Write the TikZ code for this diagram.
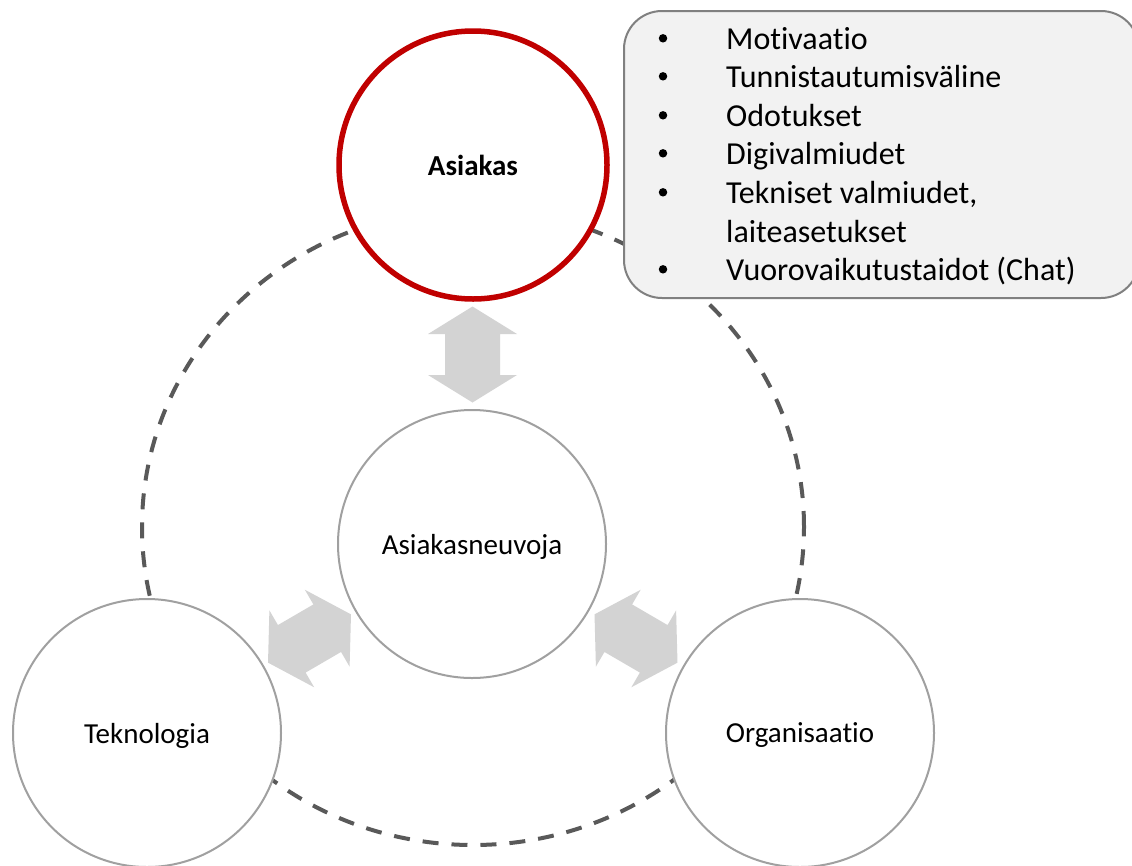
\documentclass[tikz,border=0pt]{standalone}
\usepackage{fontspec}
\setmainfont{Carlito}[Ligatures={NoCommon,NoRare,NoContextual}]
\usetikzlibrary{calc}
\definecolor{asred}{HTML}{C00000}
\definecolor{ringgrey}{HTML}{595959}
\definecolor{rimgrey}{HTML}{A0A0A0}
\definecolor{arrowgrey}{HTML}{D3D3D3}
\definecolor{boxfill}{HTML}{F2F2F2}
\definecolor{boxline}{HTML}{808080}

\begin{document}
\begin{tikzpicture}[x=1pt,y=-1pt,
  role/.style={circle, draw=rimgrey, line width=2pt, fill=white,
    minimum size=268pt, inner sep=0pt, text depth=0pt,
    font=\fontsize{29}{34}\selectfont},
  keyrole/.style={role, draw=asred, line width=5.5pt,
    font=\fontsize{29}{34}\selectfont\bfseries},
  ringline/.style={draw=ringgrey, line width=4pt, dash pattern=on 16pt off 13pt},
  infobox/.style={draw=boxline, line width=2pt, fill=boxfill,
    rounded corners=38pt, anchor=north west, minimum width=515pt,
    minimum height=287pt, inner sep=0pt},
  listline/.style={anchor=base west, inner sep=0pt, font=\fontsize{32}{38}\selectfont},
  bulletmark/.style={circle, fill=black, minimum size=8.5pt, inner sep=0pt, yshift=10.7pt},
  pics/dblarrow/.style={code={
    \fill[arrowgrey] (48pt,0pt) -- (20.5pt,44.5pt) -- (20.5pt,27.5pt)
      -- (-20.5pt,27.5pt) -- (-20.5pt,44.5pt) -- (-48pt,0pt)
      -- (-20.5pt,-44.5pt) -- (-20.5pt,-27.5pt) -- (20.5pt,-27.5pt)
      -- (20.5pt,-44.5pt) -- cycle;}}]

\useasboundingbox (0,0) rectangle (1132,865);

% dashed ring joining the three outer roles
\coordinate (ring) at (473,527);
\draw[ringline] (ring) ellipse [x radius=331pt, y radius=318pt];

% roles
\node[keyrole] (asiakas) at (473,165) {Asiakas};
\node[role] (neuvoja) at (472,544) {Asiakasneuvoja};
\node[role] (tekno) at (147,733) {Teknologia};
\node[role] (org) at (800,733) {Organisaatio};

% two-way block arrows between the roles and the advisor
\coordinate (m1) at ($(asiakas)!0.5!(neuvoja)$);
\coordinate (m2) at ($(tekno)!0.5!(neuvoja)$);
\coordinate (m3) at ($(org)!0.5!(neuvoja)$);
\pic[rotate=90] at (m1) {dblarrow};
\pic[rotate=30.2] at (m2) {dblarrow};
\pic[rotate=-30.2] at (m3) {dblarrow};

% customer attributes
\node[infobox] (box) at (623,10) {};
\node[bulletmark] (b1) at (663,49) {};
\node[bulletmark] (b2) at (663,87) {};
\node[bulletmark] (b3) at (663,126) {};
\node[bulletmark] (b4) at (663,164) {};
\node[bulletmark] (b5) at (663,203) {};
\node[bulletmark] (b6) at (663,280) {};
\node[listline] (l1) at (726,49) {Motivaatio};
\node[listline] (l2) at (726,87) {Tunnistautumisväline};
\node[listline] (l3) at (726,126) {Odotukset};
\node[listline] (l4) at (726,164) {Digivalmiudet};
\node[listline] (l5) at (726,203) {Tekniset valmiudet,};
\node[listline] (l6) at (726,242) {laiteasetukset};
\node[listline] (l7) at (726,280) {Vuorovaikutustaidot (Chat)};
\end{tikzpicture}
\end{document}
